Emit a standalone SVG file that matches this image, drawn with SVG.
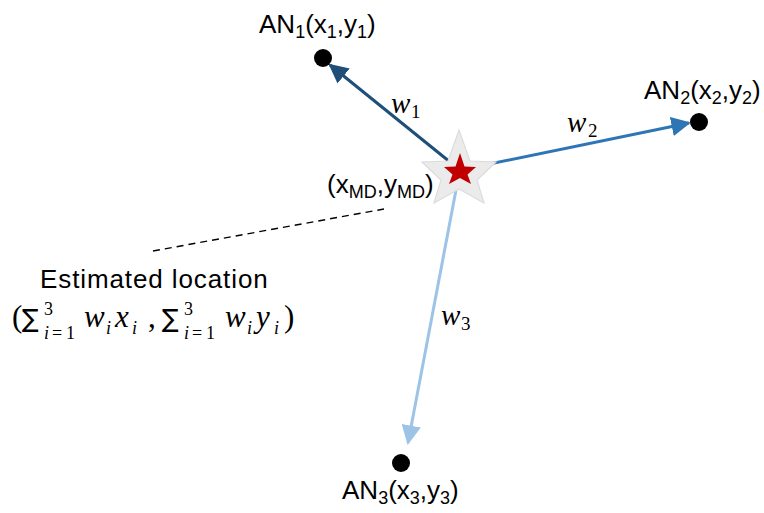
<svg xmlns="http://www.w3.org/2000/svg" width="764" height="513" viewBox="0 0 764 513">
<style>
.lbl{font-family:"Liberation Sans","Noto Sans",sans-serif;font-size:26px;fill:#000}
.sub{font-size:18px}
.w{font-family:"Liberation Serif","DejaVu Serif",serif;font-style:italic;font-size:29px;fill:#000}
.wsub{font-family:"Liberation Serif","DejaVu Serif",serif;font-size:19px;fill:#000}
.m{font-family:"Liberation Serif","DejaVu Serif",serif;font-size:31px;fill:#000}
.mi{font-style:italic}
.ms{font-size:18px}
.sig{font-family:"DejaVu Sans",sans-serif;font-size:25px}
.dot{fill:#000}
</style>
<defs>
<marker id="a1" viewBox="0 0 10 10" refX="9" refY="5" markerWidth="6.5" markerHeight="6.5" markerUnits="strokeWidth" orient="auto"><path d="M0,0L10,5L0,10Z" fill="#1F4E79"/></marker>
<marker id="a2" viewBox="0 0 10 10" refX="9" refY="5" markerWidth="6.5" markerHeight="6.5" markerUnits="strokeWidth" orient="auto"><path d="M0,0L10,5L0,10Z" fill="#2E75B6"/></marker>
<marker id="a3" viewBox="0 0 10 10" refX="9" refY="5" markerWidth="6.5" markerHeight="6.5" markerUnits="strokeWidth" orient="auto"><path d="M0,0L10,5L0,10Z" fill="#9DC3E6"/></marker>
</defs>
<g id="connectors">
<line x1="450" y1="162" x2="330" y2="65" stroke="#1F4E79" stroke-width="3" marker-end="url(#a1)"/>
<line x1="470" y1="168" x2="689" y2="123" stroke="#2E75B6" stroke-width="3" marker-end="url(#a2)"/>
<line x1="456" y1="190" x2="408" y2="443" stroke="#9DC3E6" stroke-width="3" marker-end="url(#a3)"/>
<line x1="153" y1="251" x2="384" y2="209" stroke="#000" stroke-width="1.4" stroke-dasharray="7,5"/>
</g>
<g id="md">
<polygon points="459,130 470,161 496,162 477,180 484,203 459,189 434,203 441,180 422,162 448,161" fill="#EBEBEB" stroke="#DCDCDC" stroke-width="1.2"/>
<polygon points="460,153 464.5,166.5 476,167 467.5,174.5 471,184 460,178 449,184 452.5,174.5 444,167 455.5,166.5" fill="#C00000"/>
<text class="lbl" x="327" y="193">(x<tspan class="sub" dy="5">MD</tspan><tspan dy="-5">,y</tspan><tspan class="sub" dy="5">MD</tspan><tspan dy="-5">)</tspan></text>
</g>
<g id="an1">
<circle class="dot" cx="323" cy="58" r="9"/>
<text class="lbl" x="259" y="33">AN<tspan class="sub" dy="5">1</tspan><tspan dy="-5">(x</tspan><tspan class="sub" dy="5">1</tspan><tspan dy="-5">,y</tspan><tspan class="sub" dy="5">1</tspan><tspan dy="-5">)</tspan></text>
</g>
<g id="an2">
<circle class="dot" cx="699" cy="122" r="9"/>
<text class="lbl" x="644" y="99">AN<tspan class="sub" dy="5">2</tspan><tspan dy="-5">(x</tspan><tspan class="sub" dy="5">2</tspan><tspan dy="-5">,y</tspan><tspan class="sub" dy="5">2</tspan><tspan dy="-5">)</tspan></text>
</g>
<g id="an3">
<circle class="dot" cx="401" cy="463" r="9"/>
<text class="lbl" x="342" y="499">AN<tspan class="sub" dy="5">3</tspan><tspan dy="-5">(x</tspan><tspan class="sub" dy="5">3</tspan><tspan dy="-5">,y</tspan><tspan class="sub" dy="5">3</tspan><tspan dy="-5">)</tspan></text>
</g>
<g id="weights">
<text class="w" x="391" y="113">w</text><text class="wsub" x="411" y="118">1</text>
<text class="w" x="567" y="132">w</text><text class="wsub" x="588" y="137">2</text>
<text class="w" x="441" y="325">w</text><text class="wsub" x="461" y="330">3</text>
</g>
<g id="estimate">
<text class="lbl" x="40" y="288" font-size="28" letter-spacing="0.9">Estimated location</text>
<text class="m"><tspan x="12" y="327">(</tspan><tspan class="sig" x="22" y="327">∑</tspan><tspan class="ms" x="44" y="315">3</tspan><tspan class="ms mi" x="44" y="339">i</tspan><tspan class="ms" x="52" y="339">=</tspan><tspan class="ms" x="66" y="339">1</tspan><tspan class="mi" x="84" y="327">w</tspan><tspan class="ms mi" x="106" y="334">i</tspan><tspan class="mi" x="115" y="327">x</tspan><tspan class="ms mi" x="132" y="334">i</tspan><tspan x="148" y="327">,</tspan><tspan class="sig" x="162" y="327">∑</tspan><tspan class="ms" x="184" y="315">3</tspan><tspan class="ms mi" x="184" y="339">i</tspan><tspan class="ms" x="192" y="339">=</tspan><tspan class="ms" x="206" y="339">1</tspan><tspan class="mi" x="225" y="327">w</tspan><tspan class="ms mi" x="247" y="334">i</tspan><tspan class="mi" x="256" y="327">y</tspan><tspan class="ms mi" x="274" y="334">i</tspan><tspan x="284" y="327">)</tspan></text>
</g>
</svg>
